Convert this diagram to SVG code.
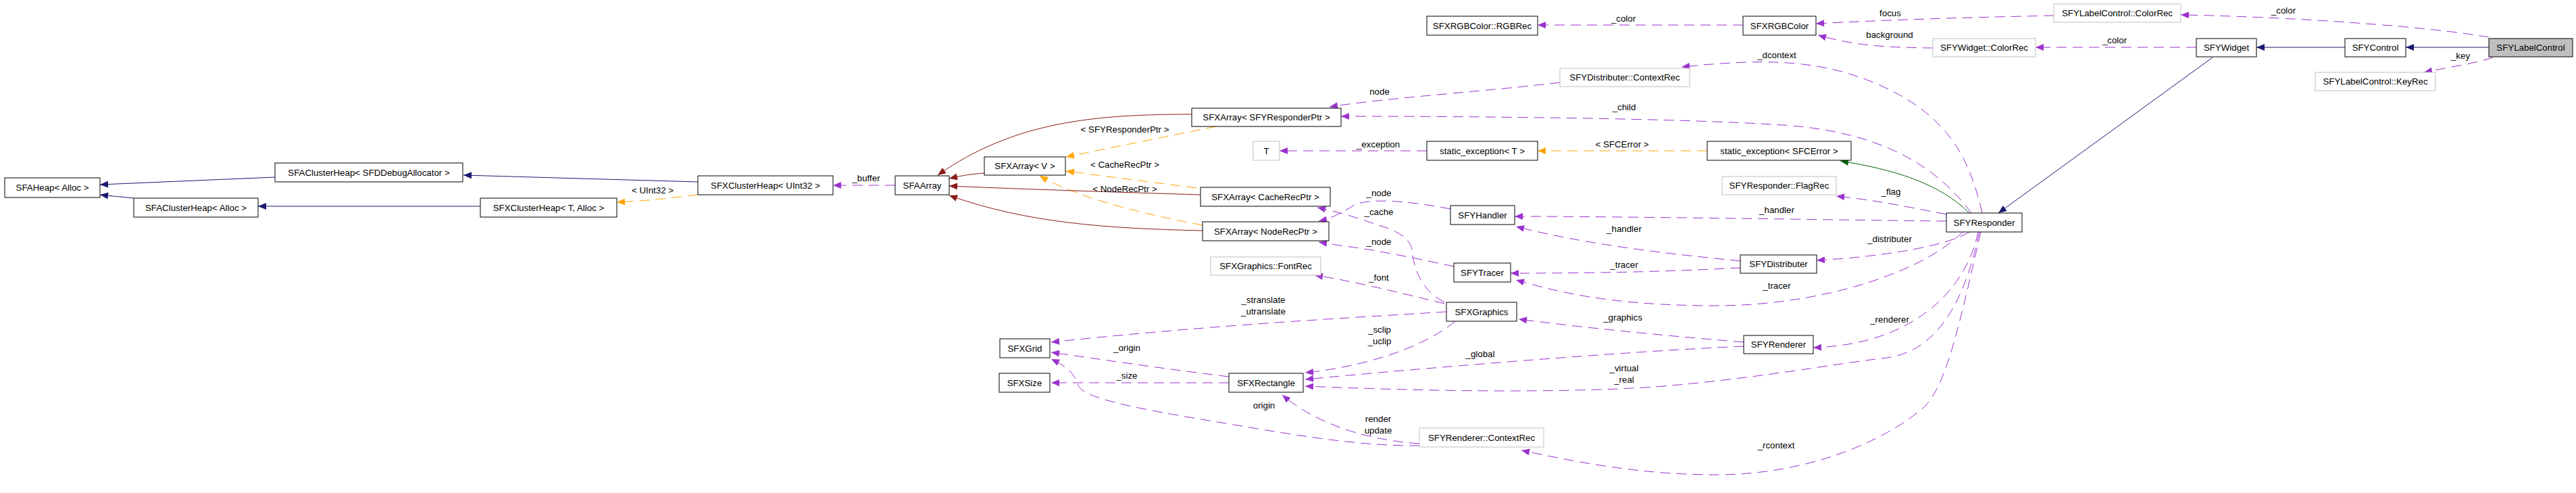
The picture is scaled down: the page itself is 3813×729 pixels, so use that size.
<svg xmlns="http://www.w3.org/2000/svg" width="3813" height="729" viewBox="0 0 3813 729">
<style>
text{font-family:"Liberation Sans",Arial,sans-serif;font-size:13.3px;fill:#000;text-anchor:middle}
.n rect{fill:#fff;stroke:#000;stroke-width:1}
.x rect{stroke:#bfbfbf}
.main rect{fill:#bfbfbf}
.e path{fill:none;stroke-width:1}
.inh{stroke:#191970;marker-end:url(#mB)}
.prv{stroke:#8b1a1a;marker-end:url(#mR)}
.prt{stroke:#006400;marker-end:url(#mG)}
.tpl{stroke:#ffa500;stroke-dasharray:15,9;marker-end:url(#mO)}
.use{stroke:#9a32cd;stroke-dasharray:15,9;marker-end:url(#mP)}
</style>
<defs>
<marker id="mB" markerUnits="userSpaceOnUse" markerWidth="13" markerHeight="10" refX="12" refY="5" viewBox="0 0 12 10" orient="auto"><path d="M0,0L12,5L0,10z" fill="#191970"/></marker>
<marker id="mR" markerUnits="userSpaceOnUse" markerWidth="13" markerHeight="10" refX="12" refY="5" viewBox="0 0 12 10" orient="auto"><path d="M0,0L12,5L0,10z" fill="#8b1a1a"/></marker>
<marker id="mG" markerUnits="userSpaceOnUse" markerWidth="13" markerHeight="10" refX="12" refY="5" viewBox="0 0 12 10" orient="auto"><path d="M0,0L12,5L0,10z" fill="#006400"/></marker>
<marker id="mO" markerUnits="userSpaceOnUse" markerWidth="13" markerHeight="10" refX="12" refY="5" viewBox="0 0 12 10" orient="auto"><path d="M0,0L12,5L0,10z" fill="#ffa500"/></marker>
<marker id="mP" markerUnits="userSpaceOnUse" markerWidth="13" markerHeight="10" refX="12" refY="5" viewBox="0 0 12 10" orient="auto"><path d="M0,0L12,5L0,10z" fill="#9a32cd"/></marker>
</defs>
<rect width="3813" height="729" fill="#fff"/>
<g id="edges" class="e">
<path class="inh" d="M3684,70L3561,70"/>
<path class="inh" d="M3471,70L3340,70"/>
<path class="inh" d="M3275,85L2958,315"/>
<path class="inh" d="M407,262L148,273"/>
<path class="inh" d="M198,293C180,291 165,290 148,288"/>
<path class="inh" d="M711,305L382,305"/>
<path class="inh" d="M1033,269L686,259"/>
<path class="tpl" d="M1033,288C990,293 960,297 913,299"/>
<path class="tpl" d="M1800,187L1578,232"/>
<path class="tpl" d="M1771,278L1578,253"/>
<path class="tpl" d="M1780,333C1700,318 1600,295 1539,260"/>
<path class="tpl" d="M2527,223L2276,223"/>
<path class="prv" d="M1764,169C1620,169 1500,180 1388,259"/>
<path class="prv" d="M1457,256C1430,258 1418,261 1405,264"/>
<path class="prv" d="M1777,288C1650,284 1520,280 1405,275"/>
<path class="prv" d="M1780,341C1640,338 1520,330 1405,289"/>
<path class="prt" d="M2915,315C2870,270 2800,250 2724,238"/>
<path class="use" d="M3684,55C3600,40 3400,25 3228,22"/>
<path class="use" d="M3690,85C3660,95 3620,100 3588,107"/>
<path class="use" d="M3251,70L3013,70"/>
<path class="use" d="M3040,23C2900,26 2780,30 2688,35"/>
<path class="use" d="M2861,71C2780,70 2740,66 2691,52"/>
<path class="use" d="M2580,37L2276,37"/>
<path class="use" d="M2934,315C2915,230 2880,170 2785,127S2600,88 2489,99"/>
<path class="use" d="M2309,122C2200,135 2050,145 1968,158"/>
<path class="use" d="M2918,315C2870,250 2790,195 2640,185S2200,172 1985,172"/>
<path class="use" d="M2112,223L1894,223"/>
<path class="use" d="M2881,317C2820,305 2770,295 2718,290"/>
<path class="use" d="M2881,327C2700,325 2400,320 2242,320"/>
<path class="use" d="M2576,386C2500,378 2360,365 2244,335"/>
<path class="use" d="M2576,396C2500,400 2400,404 2236,404"/>
<path class="use" d="M2915,343C2880,365 2780,380 2689,385"/>
<path class="use" d="M2905,343C2850,400 2700,452 2540,452S2300,430 2244,414"/>
<path class="use" d="M2928,343C2910,430 2830,510 2684,514"/>
<path class="use" d="M2930,343C2905,460 2860,520 2793,529C2700,540 2600,560 2450,572C2300,582 2100,578 1932,571"/>
<path class="use" d="M2932,343C2900,480 2880,580 2842,607C2790,650 2680,702 2540,702C2420,702 2320,680 2252,666"/>
<path class="use" d="M2581,506C2450,495 2350,485 2248,472"/>
<path class="use" d="M2581,512C2400,520 2100,545 1932,561"/>
<path class="use" d="M2154,475C2100,520 2000,545 1932,551"/>
<path class="use" d="M2138,449C2060,430 2000,415 1946,407"/>
<path class="use" d="M2141,461C2000,470 1800,480 1556,506"/>
<path class="use" d="M1819,557C1720,545 1620,530 1556,521"/>
<path class="use" d="M1819,566L1556,566"/>
<path class="use" d="M2101,656C2010,650 1940,620 1898,584"/>
<path class="use" d="M2101,659C2000,660 1900,640 1760,617C1650,598 1600,585 1595,568C1590,550 1575,540 1556,531"/>
<path class="use" d="M2147,309C2090,298 2030,292 2005,303C1990,312 1975,322 1952,327"/>
<path class="use" d="M2138,447C2105,430 2093,400 2090,370C2088,350 2060,338 2040,333C2010,322 1980,313 1950,307"/>
<path class="use" d="M2152,394C2100,383 2040,370 1991,364C1975,362 1965,360 1952,358"/>
<path class="use" d="M1325,274L1233,274"/>
<text x="966" y="286">&lt; UInt32 &gt;</text>
<text x="1282" y="268">_buffer</text>
<text x="1665" y="196">&lt; SFYResponderPtr &gt;</text>
<text x="1665" y="248">&lt; CacheRecPtr &gt;</text>
<text x="1665" y="284">&lt; NodeRecPtr &gt;</text>
<text x="2403" y="32">_color</text>
<text x="2042" y="140">node</text>
<text x="2404" y="163">_child</text>
<text x="2040" y="218">_exception</text>
<text x="2401" y="218">&lt; SFCError &gt;</text>
<text x="2041" y="290">_node</text>
<text x="2041" y="318">_cache</text>
<text x="2041" y="362">_node</text>
<text x="2404" y="343">_handler</text>
<text x="2630" y="315">_handler</text>
<text x="2041" y="415">_font</text>
<text x="2404" y="396">_tracer</text>
<text x="2402" y="474">_graphics</text>
<text x="2042" y="492">_sclip</text>
<text x="2042" y="509">_uclip</text>
<text x="2191" y="528">_global</text>
<text x="2404" y="549">_virtual</text>
<text x="2404" y="566">_real</text>
<text x="2040" y="624">render</text>
<text x="2040" y="641">update</text>
<text x="1870" y="448">_stranslate</text>
<text x="1870" y="465">_utranslate</text>
<text x="1668" y="519">_origin</text>
<text x="1668" y="560">_size</text>
<text x="1871" y="604">origin</text>
<text x="2798" y="24">focus</text>
<text x="2797" y="56">background</text>
<text x="2630" y="86">_dcontext</text>
<text x="3130" y="64">_color</text>
<text x="2799" y="288">_flag</text>
<text x="2797" y="358">_distributer</text>
<text x="2630" y="427">_tracer</text>
<text x="2797" y="477">_renderer</text>
<text x="2629" y="663">_rcontext</text>
<text x="3380" y="20">_color</text>
<text x="3642" y="87">_key</text>
</g>
<g id="n_SFYLabelControl" class="n main"><rect x="3684" y="57" width="124" height="27"/><text x="3746" y="75">SFYLabelControl</text></g>
<g id="n_SFYControl" class="n"><rect x="3471" y="57" width="90" height="27"/><text x="3516" y="75">SFYControl</text></g>
<g id="n_SFYWidget" class="n"><rect x="3251" y="57" width="89" height="27"/><text x="3295.5" y="75">SFYWidget</text></g>
<g id="n_LCColorRec" class="n x"><rect x="3040" y="6" width="188" height="27"/><text x="3134" y="24">SFYLabelControl::ColorRec</text></g>
<g id="n_LCKeyRec" class="n x"><rect x="3427" y="107" width="178" height="27"/><text x="3516" y="125">SFYLabelControl::KeyRec</text></g>
<g id="n_WColorRec" class="n x"><rect x="2861" y="57" width="152" height="27"/><text x="2937" y="75">SFYWidget::ColorRec</text></g>
<g id="n_SFXRGBColor" class="n"><rect x="2580" y="24" width="108" height="28"/><text x="2634" y="43">SFXRGBColor</text></g>
<g id="n_RGBRec" class="n"><rect x="2112" y="24" width="164" height="28"/><text x="2194" y="43">SFXRGBColor::RGBRec</text></g>
<g id="n_SFYResponder" class="n"><rect x="2881" y="315" width="112" height="28"/><text x="2937" y="334">SFYResponder</text></g>
<g id="n_DContextRec" class="n x"><rect x="2309" y="101" width="192" height="27"/><text x="2405" y="119">SFYDistributer::ContextRec</text></g>
<g id="n_SEError" class="n"><rect x="2527" y="209" width="213" height="28"/><text x="2633.5" y="228">static_exception&lt; SFCError &gt;</text></g>
<g id="n_SET" class="n"><rect x="2112" y="209" width="164" height="28"/><text x="2194" y="228">static_exception&lt; T &gt;</text></g>
<g id="n_T" class="n x"><rect x="1855" y="209" width="39" height="28"/><text x="1874.5" y="228">T</text></g>
<g id="n_FlagRec" class="n x"><rect x="2549" y="261" width="169" height="27"/><text x="2633.5" y="279">SFYResponder::FlagRec</text></g>
<g id="n_SFYHandler" class="n"><rect x="2147" y="304" width="95" height="28"/><text x="2194.5" y="323">SFYHandler</text></g>
<g id="n_SFYDistributer" class="n"><rect x="2576" y="377" width="113" height="27"/><text x="2632.5" y="395">SFYDistributer</text></g>
<g id="n_SFYTracer" class="n"><rect x="2152" y="389" width="84" height="28"/><text x="2194" y="408">SFYTracer</text></g>
<g id="n_SFXGraphics" class="n"><rect x="2141" y="447" width="104" height="28"/><text x="2193" y="466">SFXGraphics</text></g>
<g id="n_SFYRenderer" class="n"><rect x="2581" y="496" width="103" height="27"/><text x="2632.5" y="514">SFYRenderer</text></g>
<g id="n_FontRec" class="n x"><rect x="1792" y="380" width="163" height="27"/><text x="1873.5" y="398">SFXGraphics::FontRec</text></g>
<g id="n_SFXRectangle" class="n"><rect x="1819" y="552" width="110" height="28"/><text x="1874" y="571">SFXRectangle</text></g>
<g id="n_SFXGrid" class="n"><rect x="1480" y="501" width="74" height="28"/><text x="1517" y="520">SFXGrid</text></g>
<g id="n_SFXSize" class="n"><rect x="1479" y="552" width="75" height="28"/><text x="1516.5" y="571">SFXSize</text></g>
<g id="n_RContextRec" class="n x"><rect x="2101" y="633" width="184" height="28"/><text x="2193" y="652">SFYRenderer::ContextRec</text></g>
<g id="n_ArrResp" class="n"><rect x="1764" y="160" width="221" height="27"/><text x="1874.5" y="178">SFXArray&lt; SFYResponderPtr &gt;</text></g>
<g id="n_ArrV" class="n"><rect x="1457" y="232" width="120" height="27"/><text x="1517" y="250">SFXArray&lt; V &gt;</text></g>
<g id="n_ArrCache" class="n"><rect x="1777" y="277" width="192" height="28"/><text x="1873" y="296">SFXArray&lt; CacheRecPtr &gt;</text></g>
<g id="n_ArrNode" class="n"><rect x="1780" y="328" width="187" height="28"/><text x="1873.5" y="347">SFXArray&lt; NodeRecPtr &gt;</text></g>
<g id="n_SFAArray" class="n"><rect x="1325" y="260" width="80" height="28"/><text x="1365" y="279">SFAArray</text></g>
<g id="n_XCHU" class="n"><rect x="1033" y="260" width="200" height="28"/><text x="1133" y="279">SFXClusterHeap&lt; UInt32 &gt;</text></g>
<g id="n_XCHT" class="n"><rect x="711" y="293" width="202" height="28"/><text x="812" y="312">SFXClusterHeap&lt; T, Alloc &gt;</text></g>
<g id="n_ACHD" class="n"><rect x="407" y="241" width="278" height="28"/><text x="546" y="260">SFAClusterHeap&lt; SFDDebugAllocator &gt;</text></g>
<g id="n_ACHA" class="n"><rect x="198" y="293" width="184" height="28"/><text x="290" y="312">SFAClusterHeap&lt; Alloc &gt;</text></g>
<g id="n_SFAHeap" class="n"><rect x="7" y="263" width="141" height="29"/><text x="77.5" y="282">SFAHeap&lt; Alloc &gt;</text></g>
</svg>
